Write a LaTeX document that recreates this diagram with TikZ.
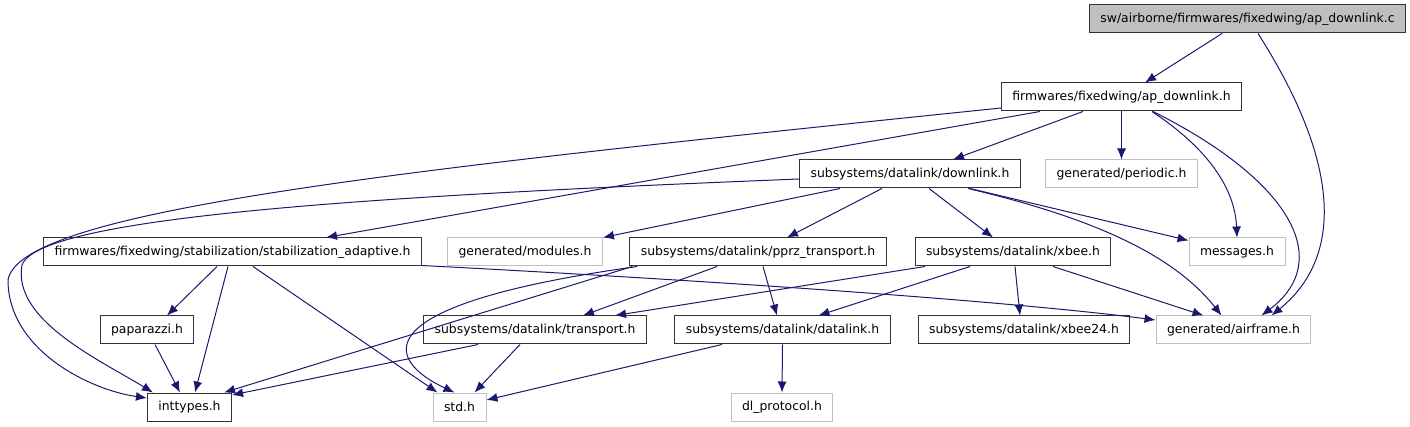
\documentclass[tikz,border=0pt]{standalone}
\usepackage{fontspec}
\setmainfont{DejaVu Sans}
\usepackage{tikz}
\usetikzlibrary{arrows.meta, positioning}
\definecolor{edgeblue}{HTML}{191970}
\definecolor{lightframe}{HTML}{BFBFBF}

\begin{document}
\begin{tikzpicture}[
    x=1pt, y=-1pt,
    file/.style={rectangle, draw=black!80, line width=1pt, fill=white,
        minimum height=28pt, inner xsep=11pt, inner ysep=0pt,
        font=\fontsize{12.4}{15}\selectfont},
    root/.style={file, fill=lightframe},
    extfile/.style={file, draw=lightframe},
    dep/.style={draw=edgeblue, line width=1pt, -{Latex[length=11pt, width=9pt]}}
]
    \useasboundingbox (0,0) rectangle (1410,427);

    % include graph
    \node[root] (apc) at (1247.5,19) {sw/airborne/firmwares/fixedwing/ap\_downlink.c};
    \node[file] (aph) at (1121.5,97) {firmwares/fixedwing/ap\_downlink.h};

    \node[file] (dl) at (910,174) {subsystems/datalink/downlink.h};
    \node[extfile] (per) at (1121.5,174) {generated/periodic.h};

    \node[file] (stab) at (232.5,252) {firmwares/fixedwing/stabilization/stabilization\_adaptive.h};
    \node[extfile] (mod) at (525,252) {generated/modules.h};
    \node[file] (pprz) at (758,252) {subsystems/datalink/pprz\_transport.h};
    \node[file] (xbee) at (1013,252) {subsystems/datalink/xbee.h};
    \node[extfile] (msg) at (1237,252) {messages.h};

    \node[file] (pap) at (147,330) {paparazzi.h};
    \node[file] (trans) at (535,330) {subsystems/datalink/transport.h};
    \node[file] (dlink) at (782.5,330) {subsystems/datalink/datalink.h};
    \node[file] (xb24) at (1024,330) {subsystems/datalink/xbee24.h};
    \node[extfile] (air) at (1233.5,330) {generated/airframe.h};

    \node[file] (int) at (189.5,407) {inttypes.h};
    \node[extfile] (std) at (459.5,407) {std.h};
    \node[extfile] (dlp) at (782,407) {dl\_protocol.h};

    % from ap_downlink.c
    \draw[dep] ([xshift=-25.5pt]apc.south) -- ([xshift=23.5pt]aph.north);
    \draw[dep] ([xshift=10.5pt]apc.south) .. controls (1345,170) and (1340,260) .. ([xshift=38pt]air.north);

    % from ap_downlink.h
    \draw[dep] ([yshift=-11pt]aph.west) .. controls (400,170) and (20,210) .. (8,280)
        .. controls (8,350) and (90,390) .. ([yshift=9pt]int.west);
    \draw[dep] ([xshift=-81.5pt]aph.south) -- ([xshift=93.5pt]stab.north);
    \draw[dep] ([xshift=-38.5pt]aph.south) -- ([xshift=43pt]dl.north);
    \draw[dep] (aph.south) -- (per.north);
    \draw[dep] ([xshift=30.5pt]aph.south) .. controls (1210,150) and (1235,190) .. (msg.north);
    \draw[dep] ([xshift=31.5pt]aph.south) .. controls (1290,180) and (1335,260) .. ([xshift=28pt]air.north);

    % from downlink.h
    \draw[dep] ([yshift=-5pt]dl.west) .. controls (400,195) and (40,215) .. (22,265)
        .. controls (12,320) and (100,360) .. ([xshift=6pt]int.north west);
    \draw[dep] ([xshift=-70pt]dl.south) -- (mod.north east);
    \draw[dep] ([xshift=-28pt]dl.south) -- ([xshift=29pt]pprz.north);
    \draw[dep] ([xshift=19pt]dl.south) -- ([xshift=-20pt]xbee.north);
    \draw[dep] ([xshift=60pt]dl.south) -- ([yshift=-3pt]msg.north west);
    \draw[dep] ([xshift=58pt]dl.south) .. controls (1080,215) and (1170,250) .. ([xshift=-12pt]air.north);

    % from stabilization_adaptive.h
    \draw[dep] ([xshift=-15.5pt]stab.south) -- ([xshift=20pt]pap.north);
    \draw[dep] ([xshift=-4.5pt]stab.south) -- ([xshift=5.5pt]int.north);
    \draw[dep] ([xshift=20.5pt]stab.south) -- ([xshift=5pt]std.north west);
    \draw[dep] ([yshift=1pt]stab.south east) .. controls (700,280) and (1000,300) .. ([yshift=10pt]air.west);

    \draw[dep] ([xshift=8pt]pap.south) -- ([xshift=-9.5pt]int.north);

    % from pprz_transport.h
    \draw[dep] ([xshift=3pt]pprz.south west) -- ([xshift=-8pt]int.north east);
    \draw[dep] ([xshift=8pt]pprz.south west) .. controls (360,305) and (385,360) .. ([xshift=-5pt]std.north);
    \draw[dep] ([xshift=-41pt]pprz.south) -- ([xshift=48pt]trans.north);
    \draw[dep] ([xshift=5pt]pprz.south) -- ([xshift=-5.5pt]dlink.north);

    % from xbee.h
    \draw[dep] ([xshift=-88pt]xbee.south) -- ([xshift=80pt]trans.north);
    \draw[dep] ([xshift=-43pt]xbee.south) -- ([xshift=36pt]dlink.north);
    \draw[dep] ([xshift=2pt]xbee.south) -- ([xshift=-4pt]xb24.north);
    \draw[dep] ([xshift=40pt]xbee.south) -- ([xshift=-30pt]air.north);

    % from transport.h and datalink.h
    \draw[dep] ([xshift=55pt]trans.south west) -- ([yshift=12pt]int.east);
    \draw[dep] ([xshift=-15pt]trans.south) -- ([xshift=15pt]std.north);
    \draw[dep] ([xshift=-60.5pt]dlink.south) -- ([yshift=7pt]std.east);
    \draw[dep] (dlink.south) -- (dlp.north);
\end{tikzpicture}
\end{document}
